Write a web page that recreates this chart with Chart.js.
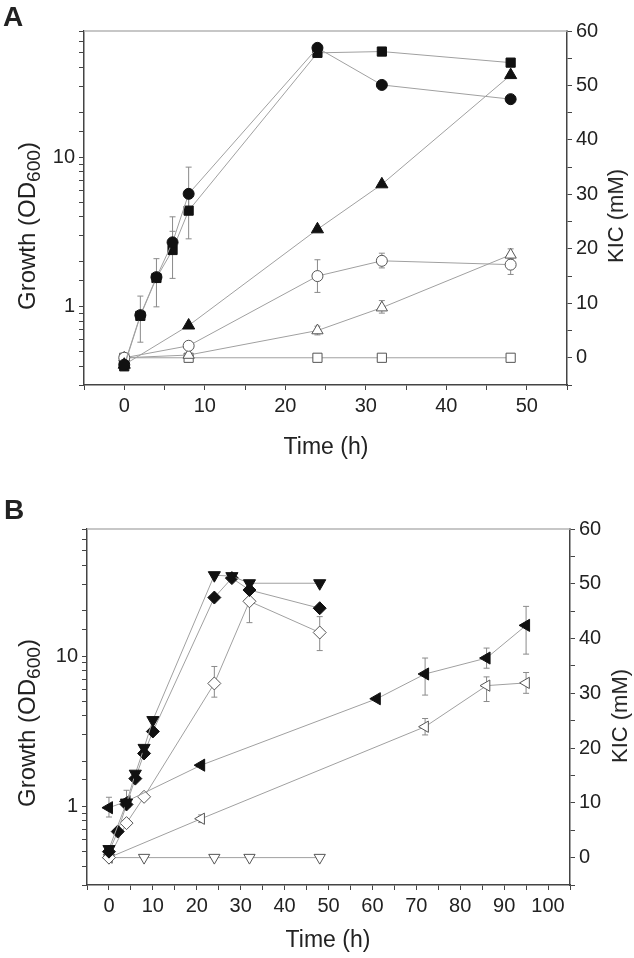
<!DOCTYPE html>
<html>
<head>
<meta charset="utf-8">
<script src="https://cdn.jsdelivr.net/npm/chart.js@4.4.1/dist/chart.umd.min.js"></script>
<style>
  body { margin: 0; background: #fff; }
  #wrap { position: relative; width: 634px; height: 958px; font-family: 'Liberation Sans', Arial, sans-serif; color: #222; }
  canvas { position: absolute; left: 0; }
  .ytitle { position: absolute; font-size: 24px; line-height: 1; white-space: nowrap; transform: translate(-50%, -50%) rotate(-90deg); }
  .ytitle.kic { font-size: 22px; }
  .xtitle { position: absolute; font-size: 23px; line-height: 1; white-space: nowrap; transform: translate(-50%, -50%); }
  .panel { position: absolute; font-size: 28px; font-weight: bold; line-height: 28px; }
  sub { font-size: 0.8em; vertical-align: -0.25em; line-height: 0; }
</style>
</head>
<body>
<div id="wrap">
  <canvas id="chartA" width="634" height="470" style="top:0"></canvas>
  <canvas id="chartB" width="634" height="488" style="top:470px"></canvas>

  <div class="panel" style="left:3px; top:3px">A</div>
  <div class="panel" style="left:4px; top:496px">B</div>

  <div class="ytitle" style="left:27px; top:226px">Growth (OD<sub>600</sub>)</div>
  <div class="ytitle kic" style="left:616px; top:216px">KIC (mM)</div>
  <div class="xtitle" style="left:326px; top:446px">Time (h)</div>

  <div class="ytitle" style="left:27px; top:723px">Growth (OD<sub>600</sub>)</div>
  <div class="ytitle kic" style="left:620px; top:716px">KIC (mM)</div>
  <div class="xtitle" style="left:328px; top:939px">Time (h)</div>
</div>

<script>
// ---- Panel A data ----
var aTimes = [0, 2, 4, 6, 8, 24, 32, 48];
var aCircleOD = [0.41, 0.88, 1.58, 2.7, 5.7, 54, 30.5, 24.5];
var aCircleErr = [null, null, null, [2.3, 3.2], [4.6, 8.6], null, null, null];
var aSquareOD = [0.40, 0.87, 1.56, 2.4, 4.4, 50, 51, 43];
var aSquareErr = [null, [0.58, 1.18], [1.0, 2.1], [1.55, 4.0], [2.85, 6.0], null, null, null];

var aTimes2 = [0, 8, 24, 32, 48];
var aTriangleOD = [0.41, 0.75, 3.3, 6.6, 35.5];
var aOpenCircleKIC = [0, 2.2, 15, 17.8, 17.1];
var aOpenCircleErr = [null, null, [12, 18], [16.5, 19.2], [15.3, 18.3]];
var aOpenTriangleKIC = [0, 0.5, 5.0, 9.2, 18.9];
var aOpenTriangleErr = [null, null, [4.2, 5.8], [8.2, 10.5], [18, 20]];
var aOpenSquareKIC = [0, 0, 0, 0, 0];

// ---- Panel B data ----
var bTimesDown = [0, 4, 6, 8, 10, 24, 28, 32, 48];
var bDownOD = [0.52, 1.06, 1.65, 2.45, 3.75, 34.5, 34, 30.5, 30.5];
var bTimesDiamond = [0, 2, 4, 6, 8, 10, 24, 28, 32, 48];
var bDiamondOD = [0.5, 0.68, 1.03, 1.53, 2.25, 3.15, 24.5, 33, 27.5, 20.8];
var bTimesLeft = [0, 4, 21, 61, 72, 86, 95];
var bLeftOD = [0.98, 1.08, 1.88, 5.2, 7.6, 9.7, 16];
var bLeftErr = [[0.85, 1.15], [1.0, 1.28], null, null, [5.5, 9.7], [8.3, 11.3], [10.3, 21.4]];

var bTimesOpenDiamond = [0, 4, 8, 24, 32, 48];
var bOpenDiamondKIC = [0, 6.3, 11.1, 31.8, 46.8, 41.1];
var bOpenDiamondErr = [null, null, null, [29.3, 34.9], [42.9, 48.5], [37.8, 44]];
var bTimesOpenLeft = [0, 21, 72, 86, 95];
var bOpenLeftKIC = [0, 7.1, 23.9, 31.4, 31.9];
var bOpenLeftErr = [null, [6.4, 7.8], [22.4, 25.4], [28.5, 33], [30, 33.8]];
var bTimesOpenDown = [0, 8, 24, 32, 48];
var bOpenDownKIC = [0, 0, 0, 0, 0];

// axis tick labels
var odLabels = [1, 10];
var kicLabels = [0, 10, 20, 30, 40, 50, 60];

Chart.defaults.font.family = "'Liberation Sans', Arial, sans-serif";
Chart.defaults.font.size = 20;
Chart.defaults.color = '#222';

var axisColor = '#444';
var lineColor = '#a0a0a0';

// draws the vertical error bars under the points
var errorBars = {
  id: 'errorBars',
  beforeDatasetsDraw: function (chart) {
    var ctx = chart.ctx;
    chart.data.datasets.forEach(function (ds) {
      if (!ds.err) return;
      var xs = chart.scales.x, ys = chart.scales[ds.yAxisID];
      ds.err.forEach(function (e, j) {
        if (!e) return;
        var px = xs.getPixelForValue(ds.data[j].x);
        var lo = ys.getPixelForValue(e[0]), hi = ys.getPixelForValue(e[1]);
        ctx.save();
        ctx.strokeStyle = '#8a8a8a';
        ctx.lineWidth = 1;
        ctx.beginPath();
        ctx.moveTo(px, lo); ctx.lineTo(px, hi);
        ctx.moveTo(px - 3, lo); ctx.lineTo(px + 3, lo);
        ctx.moveTo(px - 3, hi); ctx.lineTo(px + 3, hi);
        ctx.stroke();
        ctx.restore();
      });
    });
  }
};

// light frame line along the top of the plot
var topLine = {
  id: 'topLine',
  afterDraw: function (chart) {
    var a = chart.chartArea, ctx = chart.ctx;
    ctx.save();
    ctx.strokeStyle = '#b5b5b5';
    ctx.lineWidth = 1.5;
    ctx.beginPath();
    ctx.moveTo(a.left, a.top); ctx.lineTo(a.right, a.top);
    ctx.stroke();
    ctx.restore();
  }
};

function series(times, vals, err, axis, shape, rotation, filled, radius) {
  return {
    data: times.map(function (t, i) { return { x: t, y: vals[i] }; }),
    err: err,
    yAxisID: axis,
    showLine: true,
    borderColor: lineColor,
    borderWidth: 1,
    pointStyle: shape,
    rotation: rotation,
    pointRadius: radius,
    pointBackgroundColor: filled ? '#111' : '#fff',
    pointBorderColor: filled ? '#111' : '#555',
    pointBorderWidth: 1
  };
}

function makePanel(id, box, xMax, datasets) {
  var canvas = document.getElementById(id);
  var W = canvas.width, H = canvas.height;
  var grid = { drawOnChartArea: false, drawTicks: true, tickLength: 5, color: axisColor };
  var border = { color: axisColor, width: 1.5 };
  return new Chart(canvas, {
    type: 'scatter',
    data: { datasets: datasets },
    options: {
      responsive: false,
      animation: false,
      layout: { padding: { top: box.top, left: 0, right: 0, bottom: 0 } },
      plugins: { legend: { display: false }, tooltip: { enabled: false } },
      scales: {
        x: {
          type: 'linear', min: -5, max: xMax,
          grid: grid, border: border,
          ticks: {
            stepSize: 5, autoSkip: false, maxRotation: 0, padding: 4,
            callback: function (v) { return (v % 10 === 0 && v >= 0 && v < xMax) ? v : ''; }
          },
          afterFit: function (s) { s.height = H - box.bottom; }
        },
        y: {
          type: 'logarithmic', position: 'left', min: 0.3, max: 70,
          grid: grid, border: border,
          ticks: {
            autoSkip: false, padding: 4,
            callback: function (v) {
              return odLabels.some(function (l) { return Math.abs(v - l) < 1e-6; }) ? String(v) : '';
            }
          },
          afterFit: function (s) { s.width = box.left; }
        },
        y2: {
          type: 'linear', position: 'right', min: -5, max: 60,
          grid: grid, border: border,
          ticks: {
            stepSize: 5, autoSkip: false, padding: 4,
            callback: function (v) { return kicLabels.indexOf(v) >= 0 ? v : ''; }
          },
          afterFit: function (s) { s.width = W - box.right; }
        }
      }
    },
    plugins: [errorBars, topLine]
  });
}

makePanel('chartA', { left: 84, top: 31, right: 567, bottom: 385 }, 55, [
  series(aTimes, aCircleOD, aCircleErr, 'y', 'circle', 0, true, 5.5),
  series(aTimes, aSquareOD, aSquareErr, 'y', 'rect', 0, true, 6.5),
  series(aTimes2, aTriangleOD, null, 'y', 'triangle', 0, true, 7),
  series(aTimes2, aOpenCircleKIC, aOpenCircleErr, 'y2', 'circle', 0, false, 5.5),
  series(aTimes2, aOpenTriangleKIC, aOpenTriangleErr, 'y2', 'triangle', 0, false, 6.5),
  series(aTimes2, aOpenSquareKIC, null, 'y2', 'rect', 0, false, 6.5)
]);

makePanel('chartB', { left: 87, top: 59, right: 570, bottom: 415 }, 105, [
  series(bTimesDown, bDownOD, null, 'y', 'triangle', 180, true, 7),
  series(bTimesDiamond, bDiamondOD, null, 'y', 'rectRot', 0, true, 6.5),
  series(bTimesLeft, bLeftOD, bLeftErr, 'y', 'triangle', 270, true, 7),
  series(bTimesOpenDiamond, bOpenDiamondKIC, bOpenDiamondErr, 'y2', 'rectRot', 0, false, 6.5),
  series(bTimesOpenLeft, bOpenLeftKIC, bOpenLeftErr, 'y2', 'triangle', 270, false, 6.5),
  series(bTimesOpenDown, bOpenDownKIC, null, 'y2', 'triangle', 180, false, 6.5)
]);
</script>
</body>
</html>
